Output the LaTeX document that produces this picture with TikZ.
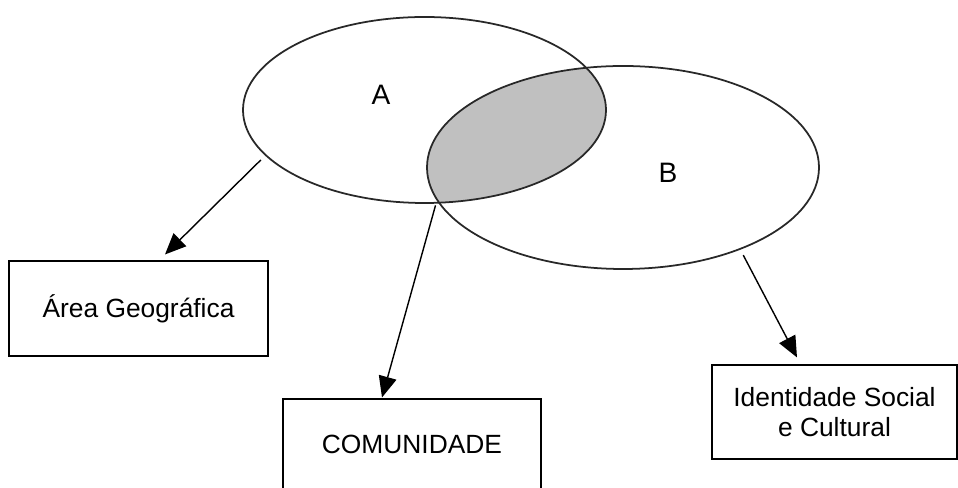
\documentclass[tikz,border=0pt]{standalone}
\usepackage{fontspec}
\setmainfont{Liberation Sans}
\usetikzlibrary{positioning,shapes.geometric,arrows.meta}
\definecolor{lensgray}{RGB}{192,192,192}
\definecolor{rimgray}{RGB}{40,40,40}

\begin{document}
\begin{tikzpicture}[
    setshape/.style = {draw=rimgray, line width=1pt, ellipse, inner sep=0pt},
    labelbox/.style = {draw, line width=0.6pt, rectangle, inner sep=0pt, align=center, font=\fontsize{15}{17}\selectfont},
    pointer/.style = {-{Triangle[length=0.42cm, width=0.36cm]}, line width=0.8pt}
  ]
    \useasboundingbox (0,0) rectangle (19.16,9.76);

    % shaded overlap of A and B
    \begin{scope}
        \clip (8.49,7.56) ellipse [x radius=3.63cm, y radius=1.86cm];
        \fill[lensgray] (12.46,6.41) ellipse [x radius=3.92cm, y radius=2.03cm];
    \end{scope}

    \node[setshape, minimum width=7.26cm, minimum height=3.72cm] (setA) at (8.49,7.56) {};
    \node[setshape, minimum width=7.84cm, minimum height=4.06cm] (setB) at (12.46,6.41) {};
    \node[font=\fontsize{16}{18}\selectfont] (labA) at (7.62,7.86) {A};
    \node[font=\fontsize{16}{18}\selectfont] (labB) at (13.36,6.31) {B};

    \node[labelbox, minimum width=5.18cm, minimum height=1.90cm] (geo) at (2.77,3.59) {Área Geográfica};
    \node[labelbox, minimum width=5.16cm, minimum height=1.80cm] (comm) at (8.24,0.88) {COMUNIDADE};
    \node[labelbox, minimum width=4.90cm, minimum height=1.88cm] (ident) at (16.69,1.52) {Identidade Social\\e Cultural};

    \draw[pointer, shorten <=3.5pt] (setA.196) -- ([xshift=0.53cm, yshift=0.12cm]geo.north);
    \draw[pointer, shorten <=1pt] (setA.277) -- ([xshift=-0.60cm, yshift=0.02cm]comm.north);
    \draw[pointer, shorten <=3.5pt] (setB.-35.5) -- ([xshift=-0.75cm, yshift=0.14cm]ident.north);

\end{tikzpicture}
\end{document}
